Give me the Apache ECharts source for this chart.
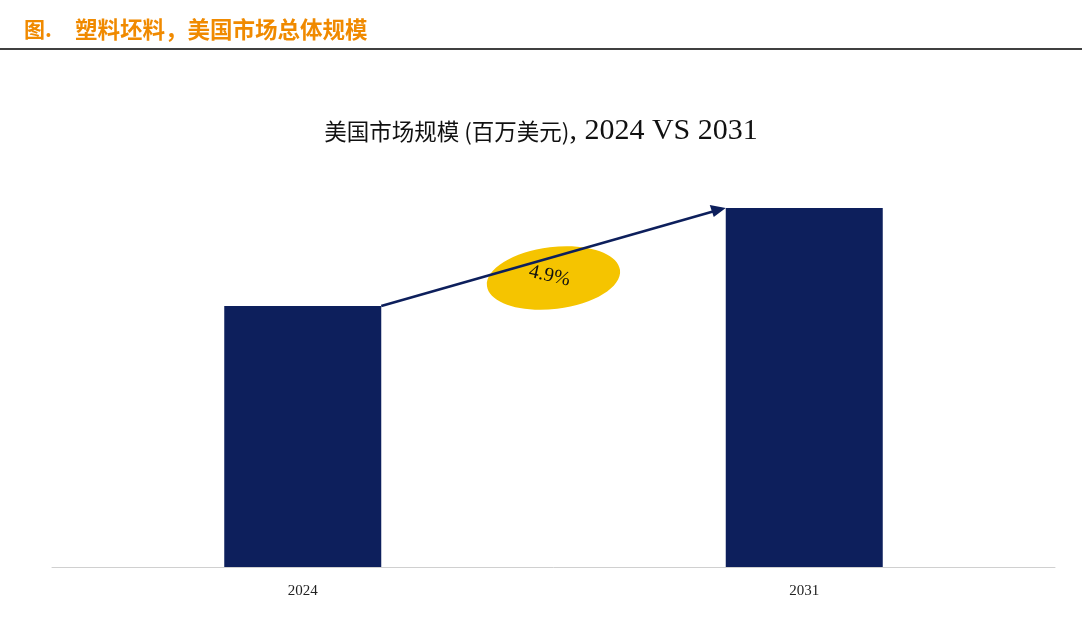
<!DOCTYPE html>
<html><head><meta charset="utf-8">
<script src="https://cdn.jsdelivr.net/npm/echarts@6/dist/echarts.min.js"></script>
<style>html,body{margin:0;padding:0;background:#fff}#c{width:1082px;height:632px}</style>
</head><body><div id="c"></div>
<script>
const categories = ['2024', '2031'];
const values = [261, 359];
const cagrLabel = '4.9%';
const chart = echarts.init(document.getElementById('c'));
chart.setOption({
  animation: false,
  grid: {left:52, right:27, top:167, bottom:65},
  xAxis: {type:'category', data:categories, axisTick:{show:false}, axisLine:{lineStyle:{color:'#d0d0d0'}},
    axisLabel:{color:'#222', fontFamily:'Liberation Serif', fontSize:15, margin:17}},
  yAxis: {type:'value', min:0, max:400, show:false, splitLine:{show:false}},
  series: [{type:'bar', data:values, barWidth:157, itemStyle:{color:'#0d1f5c'}}]
});
const p0 = chart.convertToPixel({seriesIndex:0}, [0, values[0]]);
const p1 = chart.convertToPixel({seriesIndex:0}, [1, values[1]]);
const x0 = p0[0] + 78.5, x1 = p1[0] - 78.5;
const mx = (x0 + x1) / 2, my = (p0[1] + p1[1]) / 2 + 21;
chart.setOption({graphic: [
  {type:'text', left:24, top:19, style:{text:'图.', fill:'#f08a00', font:'bold 21px "Noto Sans CJK SC"'}},
  {type:'text', left:75, top:18, style:{text:'塑料坯料，美国市场总体规模', fill:'#f08a00', font:'bold 22.5px "Noto Sans CJK SC"'}},
  {type:'line', shape:{x1:0,y1:49,x2:1082,y2:49}, style:{stroke:'#000', lineWidth:1.5}},
  {type:'text', left:'center', top:116, style:{rich:{a:{font:'22.5px "Noto Sans CJK SC"', fill:'#111'}, b:{font:'30px "Liberation Serif"', fill:'#111'}}, text:'{a|美国市场规模 (百万美元)}{b|, 2024 VS 2031}'}},
  {type:'ellipse', shape:{cx:mx, cy:my, rx:67, ry:31}, rotation:0.12, originX:mx, originY:my, style:{fill:'#f5c400'}, z:5},
  {type:'line', shape:{x1:x0, y1:p0[1], x2:x1-4, y2:p1[1]+1}, style:{stroke:'#0d1f5c', lineWidth:2.5}, z:6},
  {type:'polygon', shape:{points:[[x1,p1[1]],[x1-16,p1[1]-3],[x1-12,p1[1]+9]]}, style:{fill:'#0d1f5c'}, z:6},
  {type:'text', x:mx-4, y:my-2, rotation:-0.22, style:{text:cagrLabel, fill:'#111', font:'20px "Liberation Serif"', align:'center', verticalAlign:'middle'}, z:7}
]});
</script></body></html>
